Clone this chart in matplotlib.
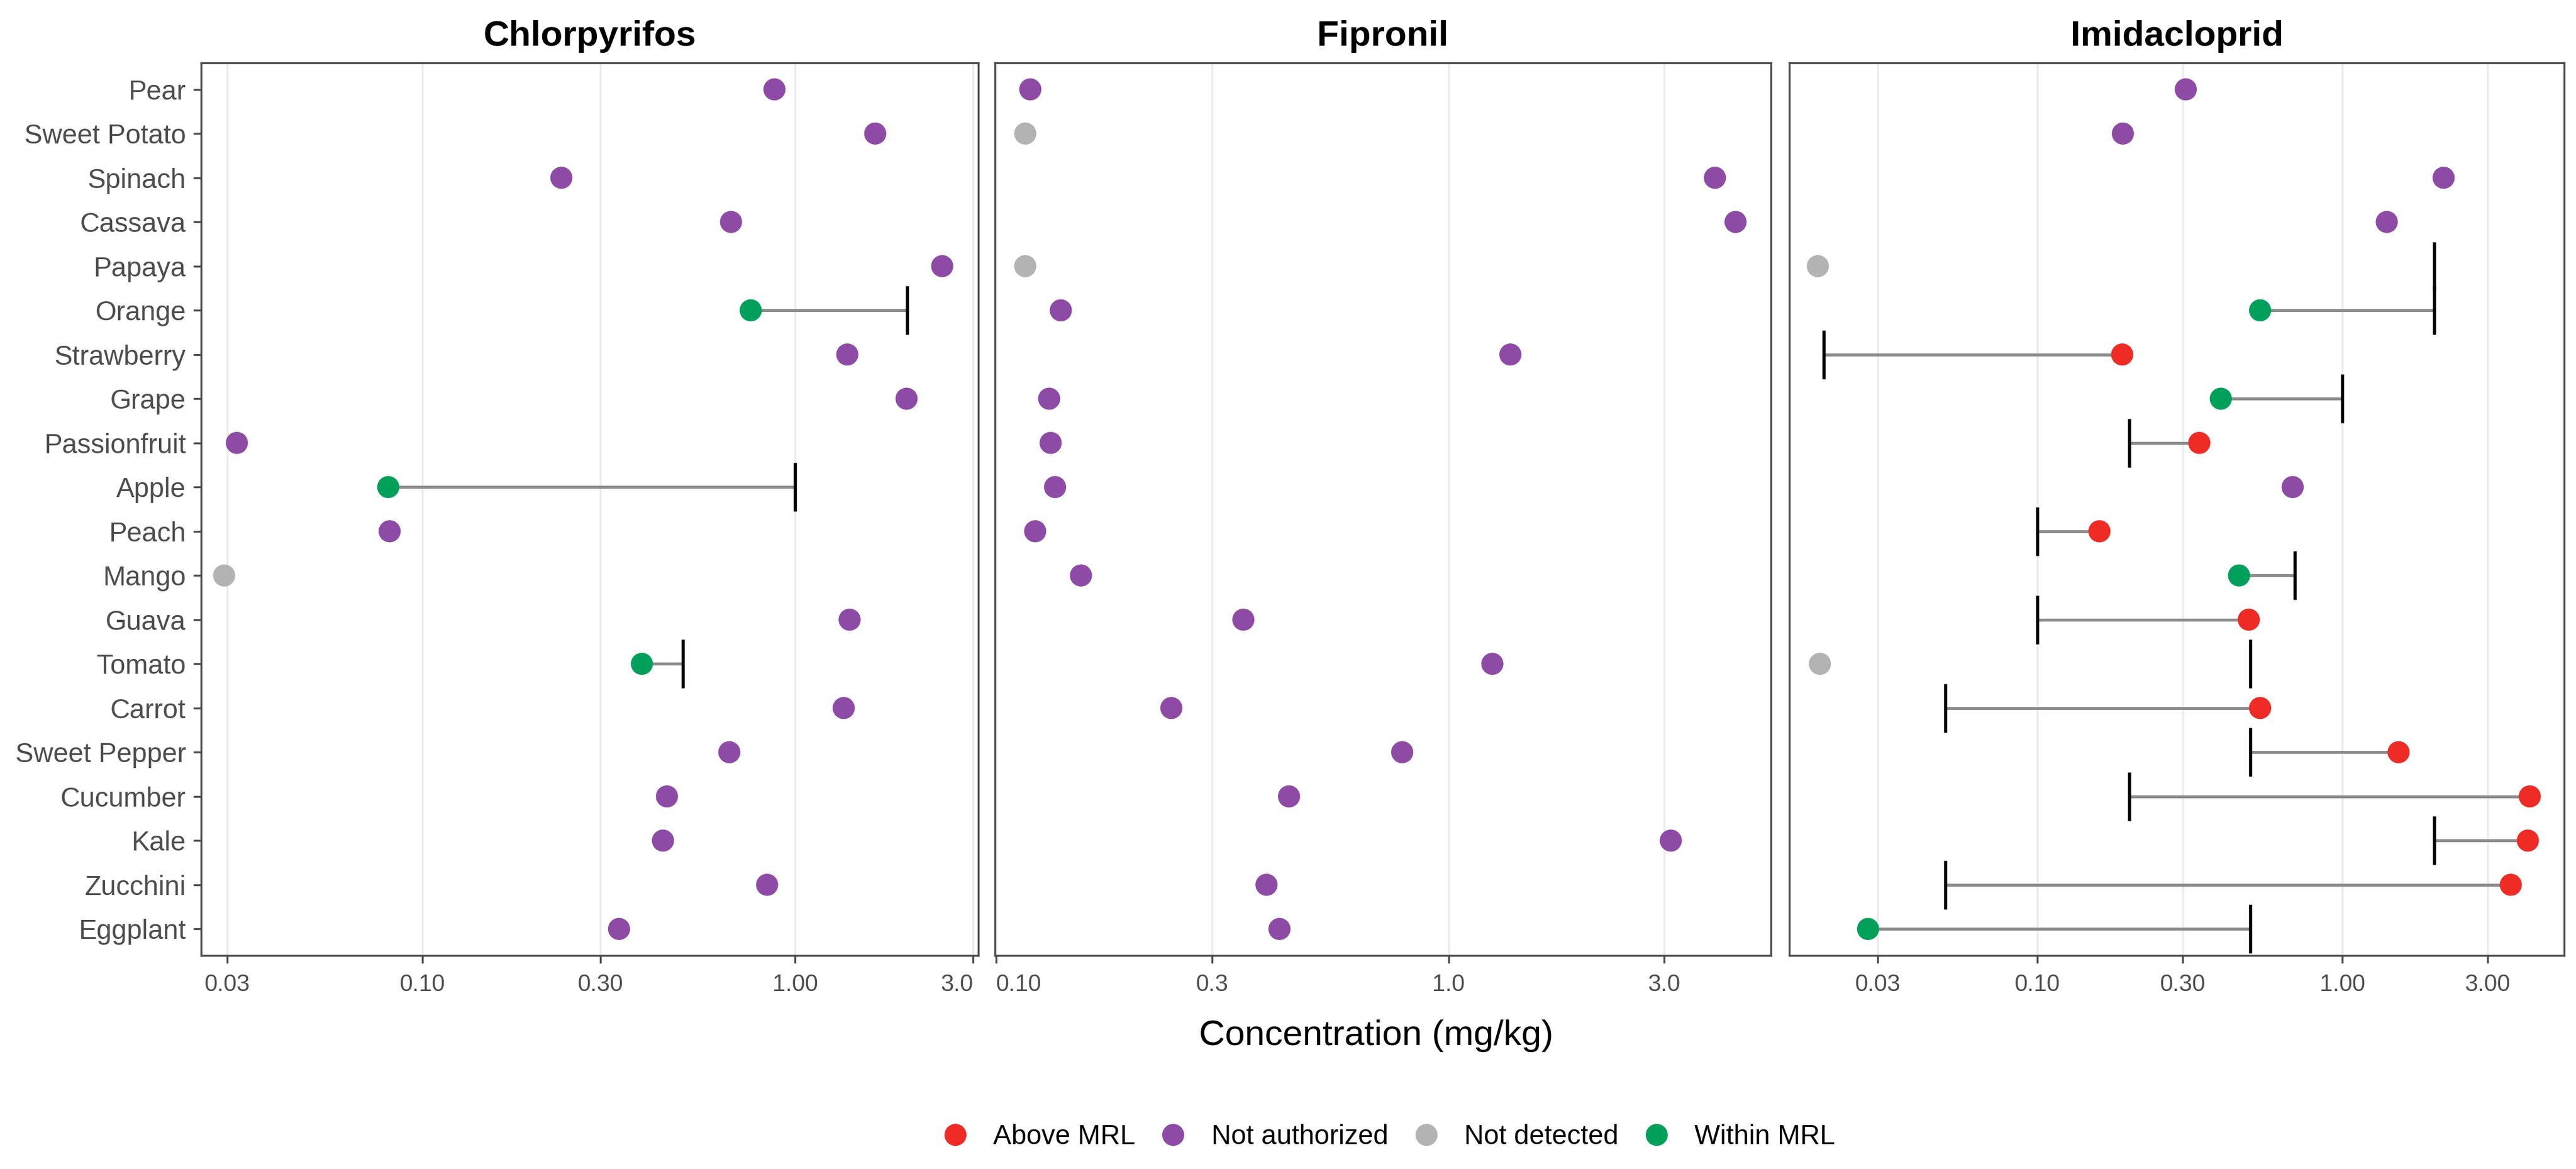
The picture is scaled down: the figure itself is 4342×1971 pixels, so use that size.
import matplotlib
matplotlib.use("Agg")
import matplotlib.pyplot as plt
from matplotlib.lines import Line2D
from matplotlib.ticker import NullLocator

plt.rcParams['font.family'] = ['Liberation Sans', 'DejaVu Sans']

# ---------------- data ----------------
crops = ["Pear", "Sweet Potato", "Spinach", "Cassava", "Papaya", "Orange",
         "Strawberry", "Grape", "Passionfruit", "Apple", "Peach", "Mango",
         "Guava", "Tomato", "Carrot", "Sweet Pepper", "Cucumber", "Kale",
         "Zucchini", "Eggplant"]

pesticides = ["Chlorpyrifos", "Fipronil", "Imidacloprid"]

# status codes: A = Above MRL, N = Not authorized, D = Not detected, W = Within MRL
chlorpyrifos_values = [0.88, 1.64, 0.236, 0.673, 2.48, 0.76, 1.38, 1.99, 0.0318, 0.081,
                       0.0817, 0.0294, 1.40, 0.388, 1.35, 0.666, 0.453, 0.442, 0.841, 0.337]
chlorpyrifos_status = ["N", "N", "N", "N", "N", "W", "N", "N", "N", "W",
                       "N", "D", "N", "W", "N", "N", "N", "N", "N", "N"]
chlorpyrifos_mrl = [None, None, None, None, None, 2.0, None, None, None, 1.0,
                    None, None, None, 0.5, None, None, None, None, None, None]

fipronil_values = [0.119, 0.116, 3.88, 4.31, 0.116, 0.139, 1.37, 0.131, 0.132, 0.135,
                   0.122, 0.154, 0.352, 1.25, 0.244, 0.79, 0.444, 3.10, 0.396, 0.423]
fipronil_status = ["N", "D", "N", "N", "D", "N", "N", "N", "N", "N",
                   "N", "N", "N", "N", "N", "N", "N", "N", "N", "N"]
fipronil_mrl = [None] * 20

imidacloprid_values = [0.307, 0.191, 2.15, 1.40, 0.0191, 0.538, 0.190, 0.40, 0.34, 0.688,
                       0.16, 0.459, 0.494, 0.0194, 0.538, 1.53, 4.12, 4.06, 3.57, 0.0279]
imidacloprid_status = ["N", "N", "N", "N", "D", "W", "A", "W", "A", "N",
                       "A", "W", "A", "D", "A", "A", "A", "A", "A", "W"]
imidacloprid_mrl = [None, None, None, None, 2.0, 2.0, 0.02, 1.0, 0.2, None,
                    0.1, 0.7, 0.1, 0.5, 0.05, 0.5, 0.2, 2.0, 0.05, 0.5]

status_codes = ["A", "N", "D", "W"]
status_labels = ["Above MRL", "Not authorized", "Not detected", "Within MRL"]
status_colors = ["#EE2B24", "#8E4BA6", "#B3B3B3", "#00A05A"]

x_limits = [(0.0255, 3.10), (0.0994, 5.16), (0.0154, 5.34)]
x_ticks = [[0.03, 0.1, 0.3, 1, 3], [0.1, 0.3, 1, 3], [0.03, 0.1, 0.3, 1, 3]]
x_ticklabels = [["0.03", "0.10", "0.30", "1.00", "3.0"],
                ["0.10", "0.3", "1.0", "3.0"],
                ["0.03", "0.10", "0.30", "1.00", "3.00"]]

x_title = "Concentration (mg/kg)"

# ---------------- figure ----------------
W, H = 4342, 1971
DPI = 300
fig = plt.figure(figsize=(W / DPI, H / DPI), dpi=DPI, facecolor="white")

panel_px = [(339, 1649), (1677, 2985), (3016, 4322)]
top_px, bot_px = 106, 1611

values_all = [chlorpyrifos_values, fipronil_values, imidacloprid_values]
status_all = [chlorpyrifos_status, fipronil_status, imidacloprid_status]
mrl_all = [chlorpyrifos_mrl, fipronil_mrl, imidacloprid_mrl]

color_of = dict(zip(status_codes, status_colors))
border_col = "#4D4D4D"
text_col = "#4D4D4D"

for i, name in enumerate(pesticides):
    l, r = panel_px[i]
    ax = fig.add_axes([l / W, 1 - bot_px / H, (r - l) / W, (bot_px - top_px) / H])
    ax.set_xscale("log")
    ax.set_xlim(*x_limits[i])
    ax.set_ylim(len(crops) - 1 + 0.6, -0.6)
    ax.set_xticks(x_ticks[i])
    ax.set_xticklabels(x_ticklabels[i])
    ax.xaxis.set_minor_locator(NullLocator())
    ax.grid(axis="x", which="major", color="#EBEBEB", lw=0.8)
    ax.set_axisbelow(True)
    for sp in ax.spines.values():
        sp.set_color(border_col)
        sp.set_linewidth(0.8)
    ax.tick_params(axis="x", length=3.1, width=0.8, color=border_col,
                   labelsize=9.5, labelcolor=text_col, pad=4.0)
    if i == 0:
        ax.set_yticks(range(len(crops)))
        ax.set_yticklabels(crops)
        ax.tick_params(axis="y", length=3.1, width=0.8, color=border_col,
                       labelsize=11, labelcolor=text_col, pad=3.0)
        ax.get_xticklabels()[-1].set_ha("right")
    else:
        ax.set_yticks([])
    if i == 1:
        ax.get_xticklabels()[0].set_ha("left")

    vals, stats, mrls = values_all[i], status_all[i], mrl_all[i]
    for y, (v, s, m) in enumerate(zip(vals, stats, mrls)):
        if m is not None and s != "D":
            ax.hlines(y, min(v, m), max(v, m), color="#8C8C8C", lw=1.2, zorder=2)
        if m is not None:
            ax.vlines(m, y - 0.55, y + 0.55, color="black", lw=1.3, zorder=3)
    ax.scatter(vals, range(len(vals)), s=80, c=[color_of[s] for s in stats],
               edgecolors="none", zorder=4)
    ax.set_title(name, fontsize=14.5, fontweight="bold", color="black", pad=7)

fig.text(2320 / W, 1 - 1747 / H, x_title, ha="center", va="center",
         fontsize=14.5, color="black")

handles = [Line2D([], [], marker="o", ls="", markersize=8.9, color=c,
                  markeredgewidth=0) for c in status_colors]
fig.legend(handles, status_labels, loc="center", bbox_to_anchor=(2340 / W, 1 - 1917 / H),
           ncol=4, frameon=False, fontsize=11, handlelength=1.0,
           handletextpad=0.9, columnspacing=0.9)

fig.savefig("out.png", dpi=DPI, facecolor="white")
